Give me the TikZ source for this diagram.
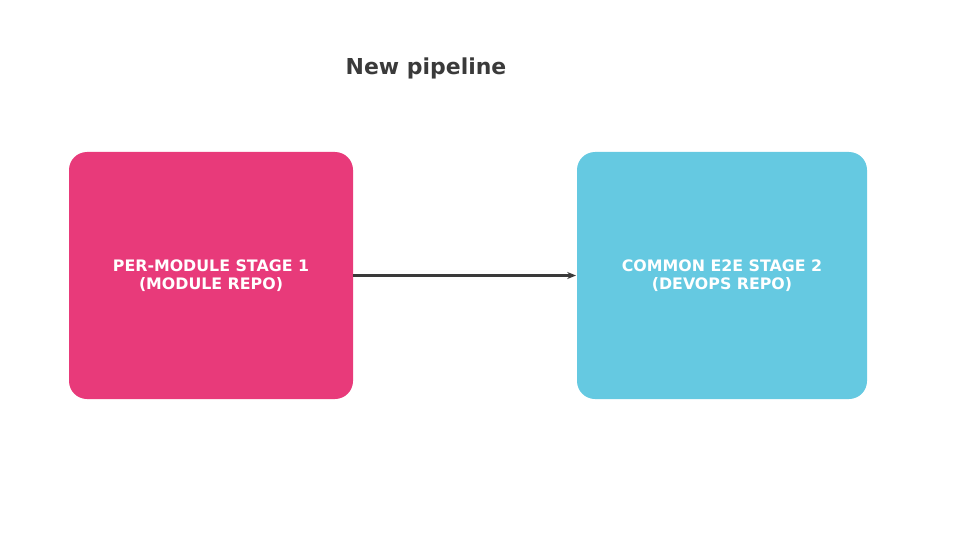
\documentclass[tikz,border=0pt]{standalone}
\usepackage{fontspec}
\setmainfont{DejaVu Sans}
\usetikzlibrary{arrows.meta}
\definecolor{stagepink}{HTML}{E83A7A}
\definecolor{stagecyan}{HTML}{65C9E1}
\definecolor{darktext}{HTML}{3A3A3A}
\begin{document}
\begin{tikzpicture}[x=0.02cm,y=-0.02cm,
  stage/.style={rounded corners=0.36cm, text=white, font=\bfseries\fontsize{9}{10}\selectfont, align=center}]

\useasboundingbox (0,0) rectangle (974,554);

% title
\node[text=darktext, font=\bfseries\fontsize{12.5}{14}\selectfont] (title) at (426,68) {New pipeline};

% stages
\fill[stagepink, rounded corners=0.36cm] (69,152) rectangle (353,399);
\node[stage] (stage1) at (211,275.5) {PER-MODULE STAGE 1\\(MODULE REPO)};
\coordinate (s1e) at (353,275.5);

\fill[stagecyan, rounded corners=0.36cm] (577,152) rectangle (867,399);
\node[stage] (stage2) at (722,275.5) {COMMON E2E STAGE 2\\(DEVOPS REPO)};
\coordinate (s2w) at (576,275.5);

\draw[darktext, line width=1.2pt, -{Stealth[length=5pt,width=4pt]}] (s1e) -- (s2w);

\end{tikzpicture}
\end{document}
